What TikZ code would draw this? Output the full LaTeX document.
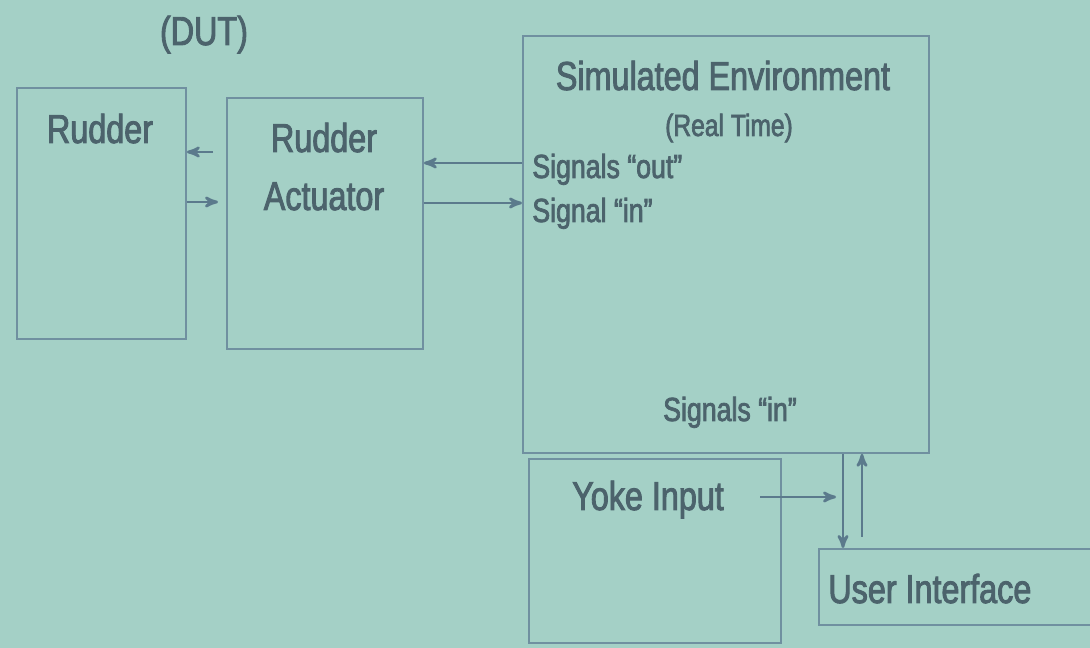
\documentclass[tikz,border=0pt]{standalone}
\usepackage{fontspec}
\setmainfont{Liberation Sans}[FakeStretch=0.8,FakeBold=2.2]
\usetikzlibrary{arrows,positioning}
\definecolor{slidebg}{HTML}{A4D0C6}
\definecolor{boxline}{HTML}{7090A0}
\definecolor{arrline}{HTML}{5B7A8C}
\definecolor{inkgray}{HTML}{4C636C}

\begin{document}
\begin{tikzpicture}[x=0.02cm,y=-0.02cm,>=stealth',
  block/.style={rectangle,draw=boxline,line width=1.1pt,anchor=north west,inner sep=0pt},
  big label/.style={text=inkgray,inner sep=0pt,font=\fontsize{23}{27}\selectfont},
  sig label/.style={text=inkgray,inner sep=0pt,font=\fontsize{19}{22}\selectfont},
  small label/.style={text=inkgray,inner sep=0pt,font=\fontsize{17.5}{20}\selectfont},
  flow/.style={->,draw=arrline,line width=1.5pt}]

  % slide background
  \fill[slidebg] (0,0) rectangle (1090,648);
  \clip (0,0) rectangle (1090,648);

  % boxes
  \node[block,minimum width=3.38cm,minimum height=5.02cm] (rudder) at (16,87) {};
  \node[block,minimum width=3.92cm,minimum height=5.02cm] (act) at (226,97) {};
  \node[block,minimum width=8.12cm,minimum height=8.34cm] (sim) at (522,35) {};
  \node[block,minimum width=5.04cm,minimum height=3.68cm] (yoke) at (528,458) {};
  \node[block,minimum width=6cm,minimum height=1.52cm] (ui) at (818,548) {};

  % texts
  \node[big label,anchor=base] (dut) at (204,45) {(DUT)};
  \node[big label,anchor=base] (rudderlbl) at (100,143) {Rudder};
  \node[big label,anchor=base] (actlbl1) at (324,152) {Rudder};
  \node[big label,anchor=base] (actlbl2) at (324,210) {Actuator};
  \node[big label,anchor=base] (simlbl) at (723,90) {Simulated Environment};
  \node[small label,anchor=base] (rtlbl) at (729,136) {(Real Time)};
  \node[sig label,anchor=base west] (sigout) at (532,178) {Signals “out”};
  \node[sig label,anchor=base west] (sigin) at (532,222) {Signal “in”};
  \node[sig label,anchor=base] (sigsin) at (730,421) {Signals “in”};
  \node[big label,anchor=base] (yokelbl) at (648,510) {Yoke Input};
  \node[big label,anchor=base west] (uilbl) at (828,603) {User Interface};

  % connectors
  \coordinate (rl) at (213,152);
  \coordinate (rr) at (218,202);
  \draw[flow] (rl) -- (rl -| rudder.east);
  \draw[flow] (rr -| rudder.east) -- (rr);

  \coordinate (so) at (0,163);
  \coordinate (si) at (0,203);
  \draw[flow] (so -| sim.west) -- (so -| act.east);
  \draw[flow] (si -| act.east) -- (si -| sim.west);

  \coordinate (yk) at (760,497);
  \coordinate (yk2) at (836,497);
  \draw[flow] (yk) -- (yk2);

  \coordinate (dn) at (843,0);
  \coordinate (up) at (862,537);
  \draw[flow] (dn |- sim.south) -- (dn |- ui.north);
  \draw[flow] (up) -- (up |- sim.south);

\end{tikzpicture}
\end{document}
